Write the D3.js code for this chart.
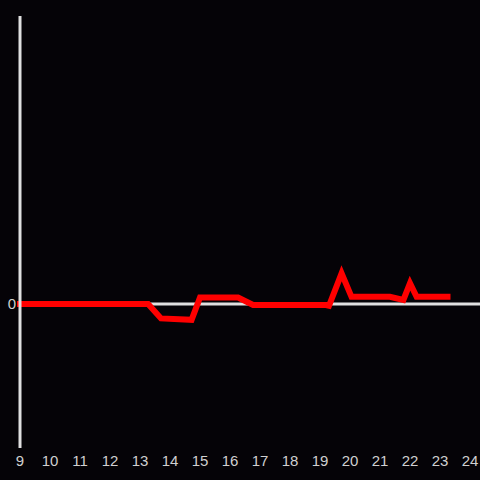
<!DOCTYPE html>
<html>
<head>
<meta charset="utf-8">
<script src="https://cdn.jsdelivr.net/npm/d3@7"></script>
<style>
  html, body { margin: 0; padding: 0; background: #050307; }
  svg { display: block; }
</style>
</head>
<body>
<div id="chart"></div>
<script>
const hours = [9, 13.27, 13.7, 14.72, 15.0, 16.27, 16.77, 19.2, 19.3, 19.72, 20.05, 21.33, 21.78, 22.0, 22.22, 23.25]
const values = [0, 0, -0.1, -0.11, 0.045, 0.045, -0.007, -0.007, -0.012, 0.213, 0.05, 0.05, 0.028, 0.144, 0.05, 0.05]
const xTicks = d3.range(9, 25)
const yTicks = [0]

const width = 480, height = 480

const svg = d3.select('#chart').append('svg')
  .attr('width', width)
  .attr('height', height)

svg.append('rect')
  .attr('width', width).attr('height', height)
  .attr('fill', '#050307')

const x = d3.scaleLinear().domain([9, 24]).range([20, 470])
const y = d3.scaleLinear().domain([-1, 2]).range([448, 16])

// zero line
svg.append('line')
  .attr('x1', x(9)).attr('x2', width)
  .attr('y1', y(0)).attr('y2', y(0))
  .attr('stroke', '#e0e0e0')
  .attr('stroke-width', 3)

const line = d3.line()
  .x((d, i) => x(hours[i]))
  .y(d => y(d))

svg.append('path')
  .datum(values)
  .attr('d', line)
  .attr('fill', 'none')
  .attr('stroke', '#ff0000')
  .attr('stroke-width', 6)
  .attr('stroke-linecap', 'square')
  .attr('stroke-linejoin', 'miter')

// y axis line, drawn over the series
svg.append('line')
  .attr('x1', x(9)).attr('x2', x(9))
  .attr('y1', 16).attr('y2', 448)
  .attr('stroke', '#e0e0e0')
  .attr('stroke-width', 3)

svg.selectAll('.xlabel')
  .data(xTicks)
  .join('text')
  .attr('class', 'xlabel')
  .attr('x', d => x(d))
  .attr('y', 466)
  .attr('text-anchor', 'middle')
  .attr('fill', '#d0d0d0')
  .style('font', '15px "Liberation Sans", Arial, sans-serif')
  .text(d => d)

svg.selectAll('.ylabel')
  .data(yTicks)
  .join('text')
  .attr('class', 'ylabel')
  .attr('x', 16)
  .attr('y', d => y(d) + 5)
  .attr('text-anchor', 'end')
  .attr('fill', '#d0d0d0')
  .style('font', '15px "Liberation Sans", Arial, sans-serif')
  .text(d => d)
</script>
</body>
</html>
